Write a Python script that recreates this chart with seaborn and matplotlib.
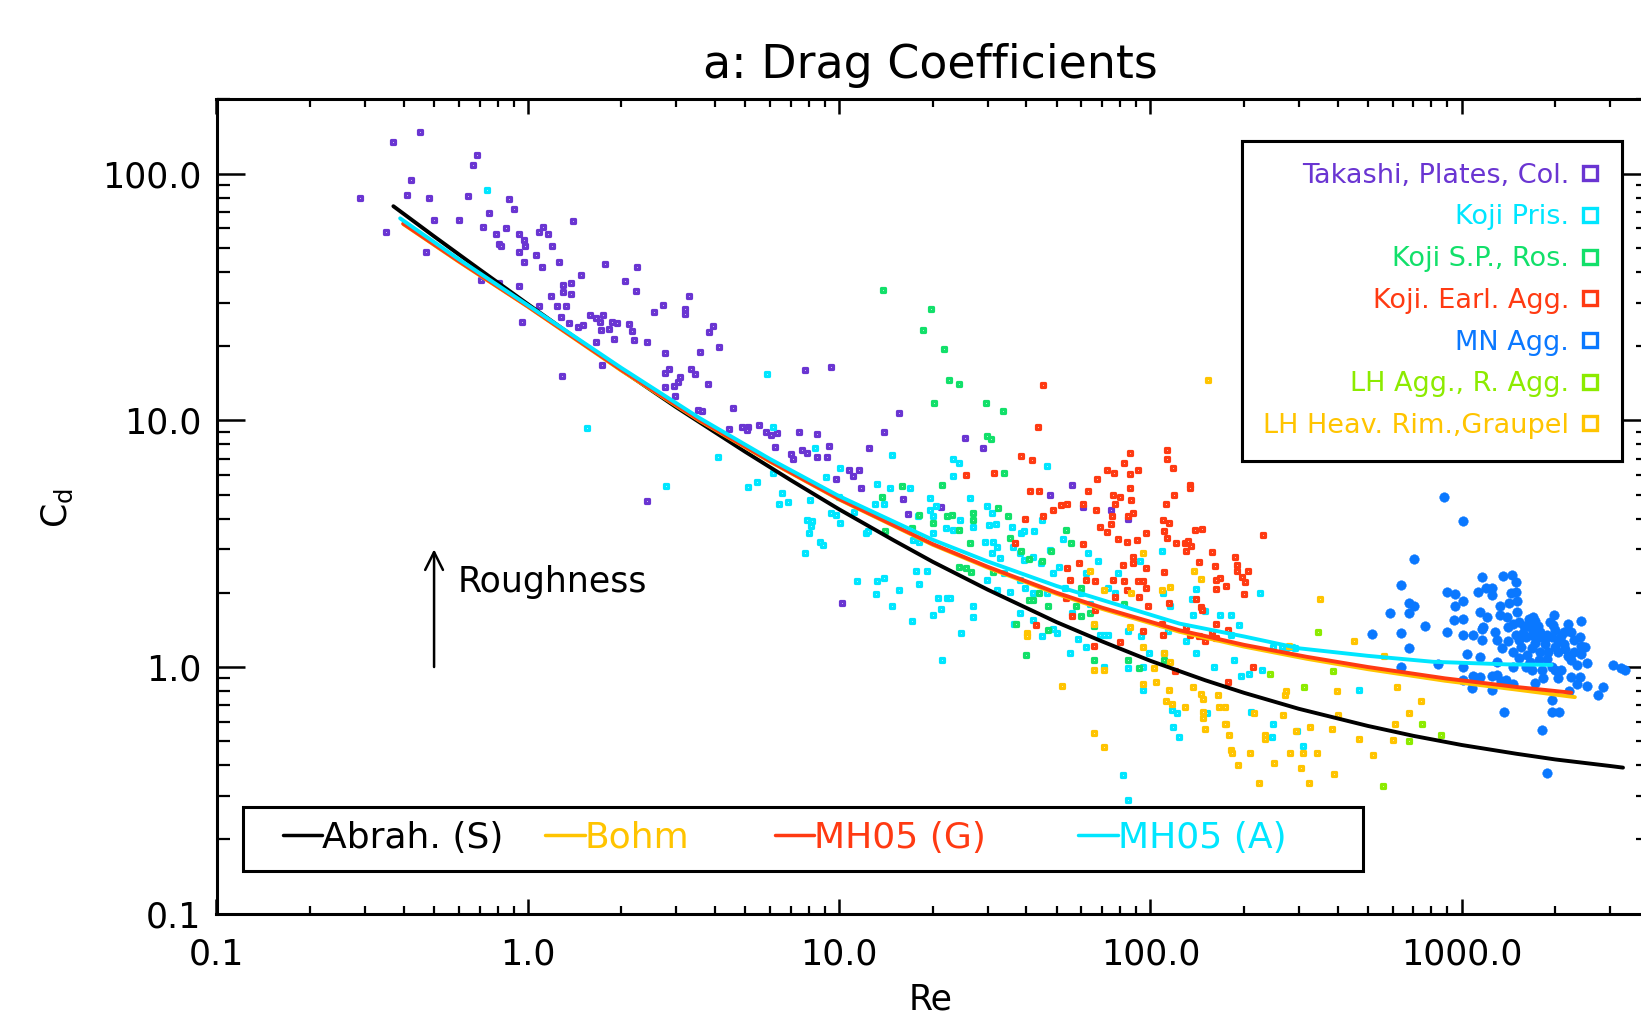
import numpy as np
import pandas as pd
import matplotlib
matplotlib.use("Agg")
import matplotlib.pyplot as plt
from matplotlib.lines import Line2D
from matplotlib.patches import Rectangle
from matplotlib.ticker import NullFormatter
import seaborn as sns

# ---------------- data ----------------
takashi_re = [0.37, 0.45, 0.685, 0.665, 0.42, 0.29, 0.41, 0.48, 0.645, 0.87, 0.90, 0.50, 0.60, 0.75, 0.35, 0.47,
              0.72, 0.79, 0.85, 0.935, 0.975, 0.81, 0.82, 0.98, 0.94, 0.97, 1.065, 1.12, 1.09, 1.16, 1.20, 1.11,
              1.26, 1.40, 1.77, 2.24, 1.48, 1.30, 1.38, 1.30, 1.38, 1.19, 1.24, 1.33, 1.09, 0.94, 0.96, 0.71,
              0.81, 2.06, 2.23, 3.30, 2.72, 2.54, 3.21, 3.21, 1.28, 1.36, 1.58, 1.74, 1.66, 1.71, 1.72, 1.86,
              1.93, 1.83, 1.50, 1.45, 1.66, 1.89, 2.11, 2.16, 2.20, 2.42, 3.94, 3.82, 4.12, 3.57, 2.75, 2.84,
              2.76, 3.35, 3.44, 3.08, 3.04, 2.95, 2.75, 2.97, 3.78, 1.73, 1.29, 3.51, 3.64, 4.58, 2.41,
              7.75, 9.44, 4.44, 4.86, 5.1, 5.05, 5.53, 5.81, 6.04, 6.33, 6.24, 7.43, 8.51, 7.03, 7.1, 7.6, 7.9,
              8.5, 9.12, 9.25, 15.6, 13.9, 12.5, 9.78, 10.8, 11.6, 11.1, 11.8, 16.0, 16.6, 21.2, 25.4, 28.9,
              56.0, 47.5, 10.2, 60.9, 75.0, 85.0]
takashi_cd = [135, 147, 119, 108, 94, 80, 82, 80, 81, 79, 72, 65, 65, 69, 58, 48,
              61, 57, 60, 57, 54, 52, 51, 51, 48, 44, 47, 61, 58, 57, 51, 42,
              44, 64, 43, 42, 39, 35.5, 36, 33, 32.5, 32, 29, 29, 29, 35, 25, 37,
              36, 36.7, 33.5, 32, 29.3, 27.6, 28.2, 27, 26.2, 24.9, 26.7, 26.8, 25.9, 25, 23.2, 25,
              24.8, 23.4, 24.3, 23.8, 20.8, 21.3, 24.6, 23, 21.2, 20.7, 24.2, 22.9, 19.9, 19, 18.8, 16.2,
              15.6, 16.2, 15.4, 15, 14.3, 13.8, 13.7, 12.6, 14, 16.8, 15.1, 11, 10.9, 11.2, 4.7,
              16.0, 16.4, 9.2, 9.4, 9.4, 9.1, 9.6, 9.0, 8.7, 8.9, 7.8, 9.0, 8.8, 7.3, 7.0, 7.6, 7.4,
              7.1, 7.1, 7.9, 10.7, 9.0, 7.75, 5.8, 6.3, 6.3, 5.95, 5.3, 4.81, 4.16, 4.47, 8.5, 7.7,
              5.48, 5.0, 1.81, 4.47, 4.33, 4.0]

kojipris_re = [0.74, 1.55, 2.79, 5.87, 6.15, 4.08, 5.1, 5.46, 6.15, 6.56, 6.4, 6.83, 8.35, 8.07, 9.1, 7.87, 8.2,
               8.1, 8.0, 8.7, 8.9, 7.8, 9.4, 9.8, 10.1, 10.0, 10.1, 11.2, 12.2, 12.4, 13.2, 14.6, 14.8, 13.0,
               13.9, 16.9, 11.4, 13.2, 13.9, 15.6, 13.1, 14.8, 17.1, 18.0, 19.1, 17.7, 20.1, 20.8, 21.3, 22.3,
               22.8, 24.6, 26.9, 26.9, 21.4, 23.3, 24.2, 23.3, 26.3, 19.6, 19.6, 20.5, 20.1, 17.9, 17.3, 18.1,
               20.1, 22.0, 23.3, 24.4, 27.0, 29.8, 31.0, 30.4, 32.0, 29.5, 31.2, 32.2, 31.0, 33.0, 36.3, 36.0,
               38.4, 39.2, 42.2, 46.4, 44.8, 38.0, 39.2, 41.9, 44.4, 47.6, 52.5, 29.8, 34.0, 32.2, 35.5, 38.0,
               39.7, 41.9, 46.4, 48.6, 51.0, 53.3, 38.0, 36.5, 41.9, 48.6, 50.0, 45.0, 55.2, 58.5, 62.0, 68.9,
               71.0, 73.0, 68.0, 63.0, 62.0, 73.0, 77.0, 79.0, 92.6, 109, 85, 93, 71, 85, 95, 60, 64, 56, 99,
               111, 114, 110, 116, 225, 140, 136, 150, 137, 167, 182, 192, 182, 248, 265, 285, 130, 140,
               81.4, 84.5, 95, 117, 118, 467, 310, 296, 246, 248, 211, 228, 207, 196, 186, 160, 152, 122, 124,
               273, 292]
kojipris_cd = [86, 9.3, 5.44, 15.4, 9.4, 7.1, 5.37, 5.62, 6.1, 5.06, 4.58, 4.68, 7.7, 4.75, 5.9, 3.94, 3.9,
               3.74, 3.48, 3.22, 3.13, 2.91, 4.2, 4.15, 3.82, 4.9, 6.4, 4.26, 3.5, 3.56, 5.52, 5.33, 7.23, 4.6,
               4.6, 5.3, 2.23, 2.23, 2.29, 2.05, 1.97, 1.77, 1.53, 2.17, 2.46, 2.44, 1.62, 1.91, 1.72, 1.91,
               1.91, 1.37, 1.77, 1.6, 1.07, 7.0, 6.7, 5.97, 4.86, 4.85, 4.33, 4.5, 4.1, 4.1, 3.27, 3.2,
               3.5, 3.65, 3.6, 3.93, 3.7, 4.5, 4.2, 3.75, 3.8, 3.22, 3.2, 3.07, 2.9, 2.76, 3.07, 3.7,
               3.5, 3.56, 3.56, 6.53, 3.93, 2.9, 2.71, 2.8, 2.64, 2.98, 3.31, 2.25, 2.4, 2.05, 2.02, 2.25,
               2.1, 1.99, 1.99, 2.4, 2.55, 2.1, 1.65, 1.5, 1.55, 1.43, 1.37, 1.33, 1.14, 1.3, 1.2, 1.35,
               1.35, 1.35, 2.7, 2.9, 2.4, 2.1, 1.99, 2.4, 2.7, 2.96, 1.4, 1.33, 1.0, 0.99, 1.0, 1.99, 1.8, 1.65, 1.14,
               1.14, 1.4, 1.99, 1.76, 1.99, 2.08, 1.88, 1.68, 1.63, 1.63, 1.63, 1.48, 1.35, 1.2, 1.2, 1.2, 1.28, 1.14,
               0.364, 0.29, 0.81, 0.67, 0.57, 0.81, 0.48, 0.55, 0.52, 0.59, 0.66, 0.97, 0.94, 0.92, 1.07, 1.0, 0.65, 0.65, 0.52,
               1.19, 1.19]

kojisp_re = [13.8, 19.7, 18.6, 21.7, 22.5, 24.3, 20.2, 29.6, 33.6, 29.9, 30.8, 33.8, 21.4, 15.9, 13.7, 18.0,
             22.3, 23.0, 27.0, 27.0, 32.3, 35.0, 20.1, 24.3, 26.3, 14.1, 17.1, 35.5, 48.0, 53.6, 55.5, 45.0,
             40.7, 38.5, 24.3, 25.6, 26.5, 31.2, 41.9, 44.0, 47.0, 40.7, 37.0, 47.0, 40.0, 57.7, 60.0, 63.8,
             66.0, 66.0, 82.6, 85.0, 92.0, 111, 60.0]
kojisp_cd = [33.7, 28.3, 23.2, 19.5, 14.6, 14.0, 11.8, 11.8, 10.9, 8.6, 8.4, 6.1, 5.48, 5.44, 4.9, 4.12,
             4.1, 4.12, 4.2, 3.93, 4.4, 4.1, 3.85, 3.6, 3.19, 3.55, 3.67, 3.35, 2.95, 3.58, 3.19, 2.68,
             2.75, 2.95, 2.55, 2.52, 2.42, 2.42, 1.87, 1.99, 1.77, 1.87, 1.5, 1.41, 1.12, 1.77, 2.1, 1.65,
             1.47, 1.07, 1.8, 1.07, 0.99, 1.07, 1.61]

kojiearl_re = [45.3, 43.7, 38.3, 41.6, 25.5, 31.5, 41.0, 43.9, 67.5, 72.5, 76.5, 82.5, 86.0, 86.0, 91.0, 113,
               113, 118, 63.0, 76.0, 80.0, 86.0, 87.0, 76.8, 112, 119, 45.3, 48.8, 51.5, 54.0, 61.0, 66.8,
               75.3, 74.8, 84.5, 88.0, 110, 115, 69.0, 72.7, 78.8, 84.0, 90.5, 97.2, 111, 113, 39.5, 36.7,
               61.0, 59.0, 54.0, 55.0, 62.0, 66.5, 76.0, 82.0, 88.0, 88.0, 97.0, 111, 121, 82.5, 91.0, 95.0,
               97.0, 76.8, 84.0, 92.0, 98.0, 109, 115, 66.5, 53.6, 56.0, 43.0, 66.0, 80.0, 95.0, 110, 120,
               134, 134, 147, 139, 129, 132, 135, 130, 158, 143, 161, 167, 175, 187, 190, 190, 197, 202,
               206, 200, 230, 163, 163, 140, 145, 147, 163, 163, 158, 178, 130, 134, 143, 150, 214, 177]
kojiearl_cd = [13.9, 9.42, 7.17, 6.9, 6.02, 6.1, 5.17, 5.17, 5.8, 6.3, 6.1, 6.7, 7.35, 6.05, 6.3, 7.6,
               6.95, 6.4, 5.17, 4.98, 4.9, 5.3, 4.75, 4.6, 4.6, 4.98, 4.1, 4.32, 4.55, 4.6, 4.56, 4.32,
               4.1, 3.8, 4.1, 4.2, 3.93, 3.85, 3.7, 3.52, 3.3, 3.22, 3.28, 3.5, 3.55, 3.34, 3.98, 3.19,
               3.14, 2.64, 2.52, 2.25, 2.25, 2.23, 2.25, 2.6, 2.8, 2.64, 2.52, 2.42, 3.18, 2.23, 2.23, 2.23,
               2.1, 1.93, 2.05, 1.93, 1.77, 1.5, 1.82, 1.7, 1.9, 1.61, 1.48, 1.22, 1.26, 1.4, 1.35, 0.96,
               5.47, 5.3, 3.63, 3.6, 3.19, 3.25, 3.1, 2.94, 2.92, 2.67, 2.56, 2.29, 2.14, 2.78, 2.6, 2.45, 2.31, 2.22,
               2.45, 1.97, 3.44, 2.25, 2.08, 1.88, 1.75, 1.7, 1.49, 1.31, 1.39, 1.41, 1.45, 1.35, 1.33, 1.28, 1.0, 0.87]

mn_re = [880, 1012, 703, 641, 589, 676, 701, 676, 762, 640, 515, 676, 641, 841, 897, 951, 1012, 951, 1010, 945,
         897, 1012, 1037, 1012, 1012, 1081, 1097, 1145, 1248, 1367, 1159, 1355, 1456, 1496, 1127, 1196, 1253,
         1255, 1436, 1425, 1510, 1510, 1145, 1210, 1325, 1175, 1159, 1089, 1159, 1280, 1410, 1460, 1530, 1644,
         1717, 1655, 1757, 1923, 1970, 2410, 2400, 2290, 2410, 2410, 2533, 1300, 1410, 1350, 1460, 1530, 1610,
         1685, 1770, 1860, 1950, 2040, 2140, 1685, 1790, 1900, 2040, 2190, 2240, 1530, 1655, 1770, 1610, 1685,
         1810, 1950, 2085, 1460, 1390, 1460, 1725, 1830, 1990, 2040, 2240, 2400, 2520, 2340, 2210, 1950, 1950,
         2060, 1810, 1880, 2750, 2850, 3070, 3250, 3340, 1089, 1248, 1340, 1300, 1590, 1790, 1880, 1990, 2130,
         2240, 1330, 1496, 1655, 1550, 1720, 1620, 1880, 2000, 2150, 2300, 1750, 1580, 1850, 2080, 1700, 1980,
         2200, 1400, 1500, 2350, 2500, 1300, 1150]
mn_cd = [4.87, 3.92, 2.75, 2.15, 1.66, 1.81, 1.76, 1.65, 1.47, 1.37, 1.36, 1.19, 1.0, 1.03, 2.02, 1.98, 1.85,
         1.77, 1.57, 1.55, 1.39, 1.35, 1.13, 1.0, 0.885, 0.82, 0.88, 0.91, 0.81, 0.66, 2.31, 2.34, 2.37, 2.22,
         2.02, 2.09, 2.09, 1.95, 2.0, 1.81, 1.85, 1.67, 1.67, 1.59, 1.63, 1.45, 1.42, 1.35, 1.29, 1.39, 1.45,
         1.49, 1.52, 1.57, 1.53, 1.45, 1.47, 1.52, 1.48, 1.53, 1.32, 1.29, 1.22, 1.13, 1.04, 1.29, 1.28, 1.19,
         1.15, 1.29, 1.32, 1.35, 1.32, 1.24, 1.32, 1.28, 1.24, 1.19, 1.15, 1.15, 1.15, 1.11, 1.07, 1.09, 1.05,
         1.07, 1.0, 0.97, 0.97, 1.0, 0.97, 1.0, 0.89, 0.85, 0.86, 0.90, 0.97, 0.90, 0.91, 0.91, 0.84, 0.85, 0.80,
         0.735, 0.66, 0.66, 0.555, 0.373, 0.77, 0.83, 1.02, 0.99, 0.97, 0.92, 0.92, 0.88, 0.93, 1.47, 1.39, 1.35,
         1.41, 1.39, 1.39, 1.77, 2.02, 1.53, 1.2, 1.25, 1.12, 1.08, 1.2, 1.18, 1.15, 1.4, 1.38, 1.3, 1.33, 1.6,
         1.62, 1.5, 1.6, 1.35, 1.02, 1.2, 1.05, 1.1]

lhagg_re = [345, 385, 312, 243, 747, 861, 680, 558]
lhagg_cd = [1.39, 0.96, 0.83, 0.94, 0.59, 0.53, 0.50, 0.33]

lhrim_re = [40.2, 40.2, 63.8, 71, 66, 66, 71, 95, 87, 109, 116, 86, 95, 111, 116, 103, 153, 145, 138, 279,
            51.9, 66, 71, 95, 104, 112, 117, 115, 451, 565, 618, 739, 677, 610, 600, 521, 468, 400, 398, 383,
            390, 342, 325, 324, 305, 310, 294, 281, 273, 271, 266, 250, 233, 233, 224, 215, 209, 191, 182, 183,
            179, 175, 174, 166, 165, 150, 148, 174, 129, 148, 145, 137, 148, 350]
lhrim_cd = [1.37, 1.33, 2.44, 2.05, 1.5, 0.97, 0.97, 2.9, 1.99, 2.05, 2.12, 1.45, 1.2, 1.14, 1.05, 0.99, 14.6,
            2.27, 2.45, 1.22, 0.84, 0.54, 0.475, 0.85, 0.87, 0.73, 0.71, 0.81, 1.28, 1.11, 0.83, 0.73, 0.65, 0.59,
            0.506, 0.44, 0.51, 0.64, 0.80, 0.56, 0.37, 0.45, 0.57, 0.34, 0.39, 0.45, 0.55, 0.45, 0.80, 0.77, 0.64,
            0.41, 0.53, 0.51, 0.34, 0.65, 0.45, 0.40, 0.46, 0.45, 0.53, 0.59, 0.69, 0.69, 0.77, 0.56, 0.62, 0.59,
            0.69, 0.74, 0.78, 0.83, 0.66, 1.89]

# curves
abrah_re = [0.37, 0.5, 0.7, 1, 1.5, 2, 3, 5, 7, 10, 15, 20, 30, 50, 70, 100, 150, 200, 300, 500, 700, 1000,
            1500, 2000, 3000, 3300]
abrah_cd = [73.8, 55.7, 40.9, 29.6, 20.6, 16.0, 11.3, 7.45, 5.72, 4.36, 3.26, 2.67, 2.06, 1.52, 1.27, 1.06,
            0.884, 0.786, 0.677, 0.577, 0.526, 0.483, 0.445, 0.422, 0.397, 0.391]
bohm_re = [0.398, 0.6, 1, 2, 3.57, 6, 10, 20, 30, 50, 70, 124, 200, 318, 500, 883, 1500, 2312]
bohm_cd = [62.5, 44.0, 28.9, 15.9, 9.95, 6.8, 4.78, 3.13, 2.53, 1.98, 1.72, 1.39, 1.21, 1.08, 0.98, 0.88,
           0.81, 0.755]
mh05g_re = [0.398, 0.6, 1, 2, 3.57, 6, 10, 20, 30, 50, 70, 124, 200, 318, 500, 883, 1500, 2250]
mh05g_cd = [62.7, 44.2, 29.0, 16.0, 10.0, 6.83, 4.80, 3.15, 2.55, 2.0, 1.74, 1.41, 1.23, 1.10, 1.0, 0.90,
            0.83, 0.787]
mh05a_re = [0.389, 0.6, 1, 2, 3.57, 6, 10, 20, 30, 50, 70, 124, 200, 302, 500, 810, 1400, 1946]
mh05a_cd = [65.9, 45.0, 29.3, 16.3, 10.2, 6.97, 4.93, 3.28, 2.68, 2.13, 1.87, 1.50, 1.33, 1.19, 1.11, 1.05,
            1.025, 1.02]

point_labels = ["Takashi, Plates, Col.", "Koji Pris.", "Koji S.P., Ros.", "Koji. Earl. Agg.",
                "MN Agg.", "LH Agg., R. Agg.", "LH Heav. Rim.,Graupel"]
point_colors = ["#6A35D2", "#00E6FF", "#12E06A", "#FF3A12", "#0A78FF", "#8CEB00", "#FFC400"]
curve_labels = ["Abrah. (S)", "Bohm", "MH05 (G)", "MH05 (A)"]
curve_colors = ["#000000", "#FFC400", "#FF3A12", "#00E6FF"]

x_ticks = [0.1, 1, 10, 100, 1000]
x_ticklabels = ["0.1", "1.0", "10.0", "100.0", "1000.0"]
y_ticks = [0.1, 1, 10, 100]
y_ticklabels = ["0.1", "1.0", "10.0", "100.0"]

# ---------------- figure ----------------
sns.set_style("white")
plt.rcParams["font.family"] = ["DejaVu Sans"]
plt.rcParams["text.color"] = "black"
plt.rcParams["axes.labelcolor"] = "black"
plt.rcParams["xtick.color"] = "black"
plt.rcParams["ytick.color"] = "black"

W, H = 1641, 1016
fig = plt.figure(figsize=(W / 100, H / 100), dpi=100)
ax_l, ax_r, ax_b, ax_t = 216.5, 1649.0, 913.7, 99.4
ax = fig.add_axes([ax_l / W, 1 - ax_b / H, (ax_r - ax_l) / W, (ax_b - ax_t) / H])
ax.set_xscale("log")
ax.set_yscale("log")

groups = [(takashi_re, takashi_cd), (kojipris_re, kojipris_cd), (kojisp_re, kojisp_cd),
          (kojiearl_re, kojiearl_cd), (mn_re, mn_cd), (lhagg_re, lhagg_cd), (lhrim_re, lhrim_cd)]
for (re_v, cd_v), lab, col in zip(groups, point_labels, point_colors):
    df = pd.DataFrame({"Re": re_v, "Cd": cd_v})
    if lab == "MN Agg.":
        sns.scatterplot(data=df, x="Re", y="Cd", ax=ax, color=col, marker="o", s=48,
                        edgecolor=col, linewidth=0.3, zorder=2, legend=False)
    else:
        sns.scatterplot(data=df, x="Re", y="Cd", ax=ax, color=col, marker="s", s=8,
                        facecolor="white", edgecolor=col, linewidth=2.3, zorder=2, legend=False)

curves = [(abrah_re, abrah_cd), (bohm_re, bohm_cd), (mh05g_re, mh05g_cd), (mh05a_re, mh05a_cd)]
for (re_v, cd_v), col in zip(curves, curve_colors):
    dfc = pd.DataFrame({"Re": re_v, "Cd": cd_v})
    sns.lineplot(data=dfc, x="Re", y="Cd", ax=ax, color=col, lw=2.8, sort=False,
                 estimator=None, zorder=3, legend=False)

ax.set_xlim(0.1, 4000)
ax.set_ylim(0.1, 200)
ax.set_xticks(x_ticks, labels=x_ticklabels)
ax.set_yticks(y_ticks, labels=y_ticklabels)
ax.xaxis.set_minor_formatter(NullFormatter())
ax.yaxis.set_minor_formatter(NullFormatter())
ax.set_xlabel("")
ax.set_ylabel("")

for sp in ax.spines.values():
    sp.set_linewidth(2.2)
    sp.set_color("black")

ax.tick_params(axis="x", which="major", direction="in", length=11, width=1.8, top=True, bottom=True,
               labelsize=25, pad=17, colors="black")
ax.tick_params(axis="x", which="minor", direction="in", length=5.5, width=1.6, top=True, bottom=True)
ax.tick_params(axis="y", which="major", direction="in", length=20, width=1.8, left=True, right=True,
               labelsize=25, pad=11, colors="black")
ax.tick_params(axis="y", which="minor", direction="in", length=9.5, width=1.6, left=True, right=True)

# titles / axis labels
fig.text(930.5 / W, 1 - 66 / H, "a: Drag Coefficients", fontsize=33, ha="center", va="center")
fig.text(931 / W, 1 - 1000 / H, "Re", fontsize=25, ha="center", va="center")
fig.text(57 / W, 1 - 508 / H, r"C$_{\mathregular{d}}$", fontsize=25, ha="center", va="center", rotation=90)

# roughness arrow
ax.annotate("", xy=(0.5, 3.0), xytext=(0.5, 1.0),
            arrowprops=dict(arrowstyle="->", lw=1.8, color="black", mutation_scale=32, shrinkA=0, shrinkB=0))
ax.text(0.593, 2.21, "Roughness", fontsize=25, ha="left", va="center")

# legend for observations (upper right)
handles = [Line2D([], [], linestyle="none", marker="s", markersize=9.5, markerfacecolor="white",
                  markeredgecolor=c, markeredgewidth=2.4) for c in point_colors]
leg = ax.legend(handles, point_labels, loc="upper right", bbox_to_anchor=(1622 / W, 1 - 141 / H),
                bbox_transform=fig.transFigure, markerfirst=False, labelcolor=point_colors, fontsize=19.5,
                frameon=True, fancybox=False, edgecolor="black", framealpha=1, borderpad=0.8,
                handlelength=0.8, handletextpad=0.35, labelspacing=0.58, borderaxespad=0)
leg.get_frame().set_linewidth(2.2)
ax.add_artist(leg)

# legend for the curves (bottom box)
fig.add_artist(Rectangle((242.8 / W, 1 - 870.7 / H), (1362.6 - 242.8) / W, (870.7 - 807) / H,
                         transform=fig.transFigure, facecolor="white", edgecolor="black", lw=2.2, zorder=4))
starts = [282.6, 545.0, 774.5, 1078.0]
for lab, col, x0 in zip(curve_labels, curve_colors, starts):
    fig.legend([Line2D([], [], color=col, lw=2.5)], [lab], loc="center left",
               bbox_to_anchor=(x0 / W, 1 - 838 / H), frameon=False, fontsize=26, labelcolor=col,
               handlelength=1.1, handletextpad=0.0, borderpad=0, borderaxespad=0)

fig.savefig("out.png", dpi=100)
